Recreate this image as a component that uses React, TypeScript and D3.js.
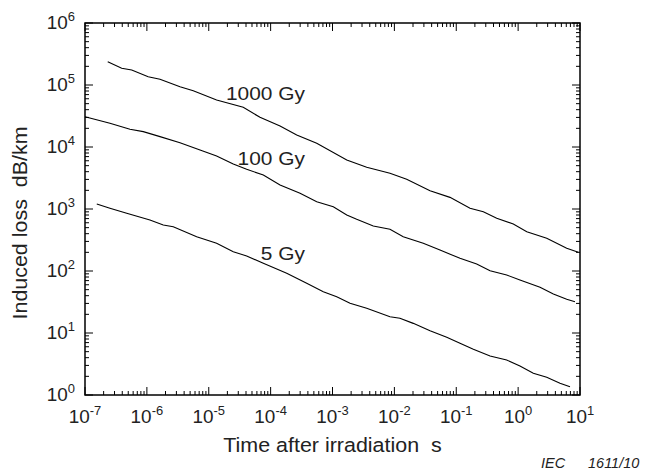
import React from "react";
import * as d3 from "d3";

const time1000 = [2.33e-7, 3.92e-7, 5.69e-7, 1.05e-6, 1.63e-6, 3.43e-6, 5.62e-6, 1.34e-5, 3.61e-5, 6.73e-5, 1.42e-4, 2.64e-4, 5.56e-4, 1.7e-3, 3.57e-3, 8.49e-3, 1.58e-2, 3.77e-2, 7.92e-2, 0.167, 0.274, 0.451, 0.836, 1.38, 2.9, 6.1, 9.39];
const loss1000 = [2.38e5, 1.86e5, 1.75e5, 1.36e5, 1.24e5, 9.4e4, 8.1e4, 5.73e4, 4.37e4, 3.01e4, 2.18e4, 1.56e4, 1.15e4, 6170, 4710, 3770, 3010, 1970, 1540, 1030, 904, 708, 573, 431, 337, 232, 200];

const time100 = [1e-7, 2.53e-7, 5.33e-7, 8.75e-7, 1.63e-6, 3.43e-6, 7.23e-6, 1.34e-5, 2.49e-5, 4.1e-5, 7.62e-5, 1.42e-4, 2.99e-4, 5.56e-4, 1.03e-3, 1.7e-3, 2.46e-3, 4.56e-3, 8.49e-3, 1.39e-2, 2.93e-2, 5.46e-2, 0.115, 0.214, 0.352, 0.653, 1.07, 2.26, 3.71, 6.1, 8.3];
const loss100 = [3.08e4, 2.41e4, 1.93e4, 1.77e4, 1.47e4, 1.17e4, 8950, 7160, 5320, 4370, 3530, 2440, 1790, 1310, 1090, 800, 682, 532, 471, 357, 280, 218, 160, 130, 101, 86.1, 71.6, 54.6, 42.6, 35.0, 32.0];

const time5 = [1.55e-7, 2.53e-7, 4.72e-7, 1.12e-6, 1.84e-6, 2.67e-6, 6.38e-6, 1.34e-5, 2.49e-5, 4.1e-5, 7.62e-5, 1.82e-4, 3.83e-4, 7.1e-4, 1.17e-3, 1.92e-3, 3.57e-3, 8.49e-3, 1.23e-2, 2.02e-2, 3.77e-2, 7.02e-2, 0.115, 0.189, 0.352, 0.653, 1.07, 1.76, 2.9, 4.75, 6.89];
const loss5 = [1200, 1030, 853, 665, 552, 518, 357, 280, 205, 175, 133, 91.8, 63.4, 46.4, 38.5, 30.1, 25.0, 18.3, 17.3, 14.3, 10.9, 8.53, 6.82, 5.46, 4.26, 3.67, 2.94, 2.24, 1.93, 1.55, 1.36];

const seriesLabels = ["1000 Gy", "100 Gy", "5 Gy"];
const labelLoss = [5.73e4, 5.13e3, 150];
const labelTime = [3e-3, 3e-3, 3e-3];

const xExponents = [-7, -6, -5, -4, -3, -2, -1, 0, 1];
const yExponents = [0, 1, 2, 3, 4, 5, 6];

const xTitle = "Time after irradiation  s";
const yTitle = "Induced loss  dB/km";
const credit = ["IEC", "1611/10"];

const L = 85, R = 580, T = 23, B = 395;
const FONT = "'Liberation Sans', Arial, Helvetica, sans-serif";

export default function App() {
  const x = d3.scaleLog().domain([1e-7, 10]).range([L, R]);
  const y = d3.scaleLog().domain([1, 1e6]).range([B, T]);
  const line = d3
    .line<[number, number]>()
    .x((d) => x(d[0]))
    .y((d) => y(d[1]));

  const series = [
    d3.zip(time1000, loss1000) as [number, number][],
    d3.zip(time100, loss100) as [number, number][],
    d3.zip(time5, loss5) as [number, number][],
  ];

  const xTicks: { v: number; major: boolean }[] = [];
  for (let e = -7; e <= 1; e++) {
    for (let m = 1; m <= 9; m++) {
      const v = m * Math.pow(10, e);
      if (v > 10.0001) break;
      xTicks.push({ v, major: m === 1 });
    }
  }
  const yTicks: { v: number; major: boolean }[] = [];
  for (let e = 0; e <= 6; e++) {
    for (let m = 1; m <= 9; m++) {
      const v = m * Math.pow(10, e);
      if (v > 1e6 + 1) break;
      yTicks.push({ v, major: m === 1 });
    }
  }
  const MAJ = 8, MIN = 4;
  const sx = 1.08;
  const tickFs = 17.5;
  const supFs = 12;

  return (
    <svg width={650} height={471} style={{ display: "block", position: "absolute", left: 0, top: 0 }} fontFamily={FONT}>
      <rect x={0} y={0} width={650} height={471} fill="#fff" />
      {/* ticks */}
      <g stroke="#000" strokeWidth={1}>
        {xTicks.map((t, i) => {
          const px = x(t.v);
          const len = t.major ? MAJ : MIN;
          return (
            <g key={"xt" + i}>
              <line x1={px} x2={px} y1={B} y2={B - len} />
              <line x1={px} x2={px} y1={T} y2={T + len} />
            </g>
          );
        })}
        {yTicks.map((t, i) => {
          const py = y(t.v);
          const len = t.major ? MAJ : MIN;
          return (
            <g key={"yt" + i}>
              <line x1={L} x2={L + len} y1={py} y2={py} />
              <line x1={R} x2={R - len} y1={py} y2={py} />
            </g>
          );
        })}
      </g>
      <rect x={L} y={T} width={R - L} height={B - T} fill="none" stroke="#000" strokeWidth={1.5} />
      {/* curves */}
      {series.map((s, i) => (
        <path key={"s" + i} d={line(s) || ""} fill="none" stroke="#000" strokeWidth={1.1} />
      ))}
      {/* curve labels */}
      {seriesLabels.map((lab, i) => (
        <g key={"lab" + i} transform={`translate(305,${y(labelLoss[i])}) scale(1.1,1)`}>
          <text textAnchor="end" fontSize={19} fill="#222">{lab}</text>
        </g>
      ))}
      {/* x tick labels */}
      {xExponents.map((e) => (
        <g key={"xl" + e} transform={`translate(${x(Math.pow(10, e))},423) scale(${sx},1)`}>
          <text textAnchor="middle" fontSize={tickFs} fill="#222">
            10<tspan dy={-8} fontSize={supFs}>{e}</tspan>
          </text>
        </g>
      ))}
      {/* y tick labels */}
      {yExponents.map((e) => (
        <g key={"yl" + e} transform={`translate(75,${y(Math.pow(10, e)) + 6}) scale(${sx},1)`}>
          <text textAnchor="end" fontSize={tickFs} fill="#222">
            10<tspan dy={-8} fontSize={supFs}>{e}</tspan>
          </text>
        </g>
      ))}
      {/* axis titles */}
      <g transform={`translate(${(L + R) / 2},451.5) scale(1.1,1)`}>
        <text textAnchor="middle" fontSize={19.5} fill="#222" style={{ whiteSpace: "pre" }}>{xTitle}</text>
      </g>
      <g transform={`translate(27,${(T + B) / 2 + 14}) rotate(-90) scale(1.1,1)`}>
        <text textAnchor="middle" fontSize={19.5} fill="#222" style={{ whiteSpace: "pre" }}>{yTitle}</text>
      </g>
      {/* credit */}
      <text x={541} y={468} fontSize={14.5} fontStyle="italic" fill="#222">{credit[0]}</text>
      <text x={588} y={468} fontSize={14.5} fontStyle="italic" fill="#222">{credit[1]}</text>
    </svg>
  );
}
